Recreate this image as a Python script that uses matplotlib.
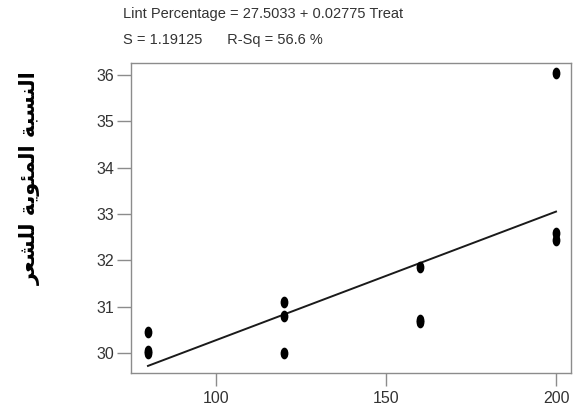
import matplotlib
matplotlib.use("Agg")
import matplotlib.pyplot as plt
import numpy as np
from matplotlib.path import Path
from matplotlib.transforms import Affine2D

# data
treat = [80, 80, 80, 120, 120, 120, 160, 160, 160, 200, 200, 200]
lint_pct = [30.45, 30.05, 30.0, 31.1, 30.8, 30.0, 31.85, 30.72, 30.68, 36.05, 32.6, 32.45]
intercept = 27.5033
slope = 0.02775
s_val = 1.19125
r_sq = 56.6
ylabel_ar = "النسبة المئوية للشعر"
xticks = [100, 150, 200]
yticks = [30, 31, 32, 33, 34, 35, 36]

# minimal arabic shaping (matplotlib has no complex text layout)
FORMS = {  # iso, fin, ini, med
    'ا': ('\uFE8D', '\uFE8E', None, None),
    'ل': ('\uFEDD', '\uFEDE', '\uFEDF', '\uFEE0'),
    'ن': ('\uFEE5', '\uFEE6', '\uFEE7', '\uFEE8'),
    'س': ('\uFEB1', '\uFEB2', '\uFEB3', '\uFEB4'),
    'ب': ('\uFE8F', '\uFE90', '\uFE91', '\uFE92'),
    'ة': ('\uFE93', '\uFE94', None, None),
    'م': ('\uFEE1', '\uFEE2', '\uFEE3', '\uFEE4'),
    'ئ': ('\uFE89', '\uFE8A', '\uFE8B', '\uFE8C'),
    'و': ('\uFEED', '\uFEEE', None, None),
    'ي': ('\uFEF1', '\uFEF2', '\uFEF3', '\uFEF4'),
    'ش': ('\uFEB5', '\uFEB6', '\uFEB7', '\uFEB8'),
    'ع': ('\uFEC9', '\uFECA', '\uFECB', '\uFECC'),
    'ر': ('\uFEAD', '\uFEAE', None, None),
}


def shape_arabic(text):
    out = []
    for i, ch in enumerate(text):
        if ch not in FORMS:
            out.append(ch)
            continue
        prev = text[i - 1] if i > 0 else ''
        nxt = text[i + 1] if i + 1 < len(text) else ''
        join_prev = prev in FORMS and FORMS[prev][2] is not None
        join_next = nxt in FORMS and FORMS[ch][2] is not None
        iso, fin, ini, med = FORMS[ch]
        if join_prev and join_next:
            out.append(med)
        elif join_prev:
            out.append(fin)
        elif join_next:
            out.append(ini)
        else:
            out.append(iso)
    return ''.join(out)[::-1]


plt.rcParams['font.family'] = ['Liberation Sans', 'DejaVu Sans']

fig = plt.figure(figsize=(5.75, 4.19), dpi=100)
ax = fig.add_axes([0.2278, 0.1098, 0.7652, 0.7398])

# taller than wide dots like the original
dot = Path.unit_circle().transformed(Affine2D().scale(0.62, 1.0))
ax.scatter(treat, lint_pct, marker=dot, s=55, color='black', zorder=3)

xs = np.array([min(treat), max(treat)])
ax.plot(xs, intercept + slope * xs, color='#1a1a1a', linewidth=1.4)

ax.set_xlim(75, 204.4)
ax.set_ylim(29.57, 36.26)
ax.set_xticks(xticks)
ax.set_yticks(yticks)

for sp in ax.spines.values():
    sp.set_color('#8c8c8c')
    sp.set_linewidth(1.0)
ax.tick_params(axis='y', length=10, width=1, color='#8c8c8c', pad=2,
               labelsize=11.5, labelcolor='#333333')
ax.tick_params(axis='x', length=9, width=1, color='#8c8c8c', pad=4,
               labelsize=11.5, labelcolor='#333333')

fig.text(123 / 575, 1 - 14 / 419,
         f"Lint Percentage = {intercept} + {slope} Treat",
         ha='left', va='center', fontsize=10.5, color='#333333')
fig.text(123 / 575, 1 - 40 / 419,
         f"S = {s_val}      R-Sq = {r_sq} %",
         ha='left', va='center', fontsize=10.5, color='#333333')

fig.text(30 / 575, 1 - 178 / 419, shape_arabic(ylabel_ar), rotation=90,
         ha='center', va='center', fontsize=15, fontweight='bold',
         color='black', family=['DejaVu Sans'])

fig.savefig('out.png', dpi=100, facecolor='white')
